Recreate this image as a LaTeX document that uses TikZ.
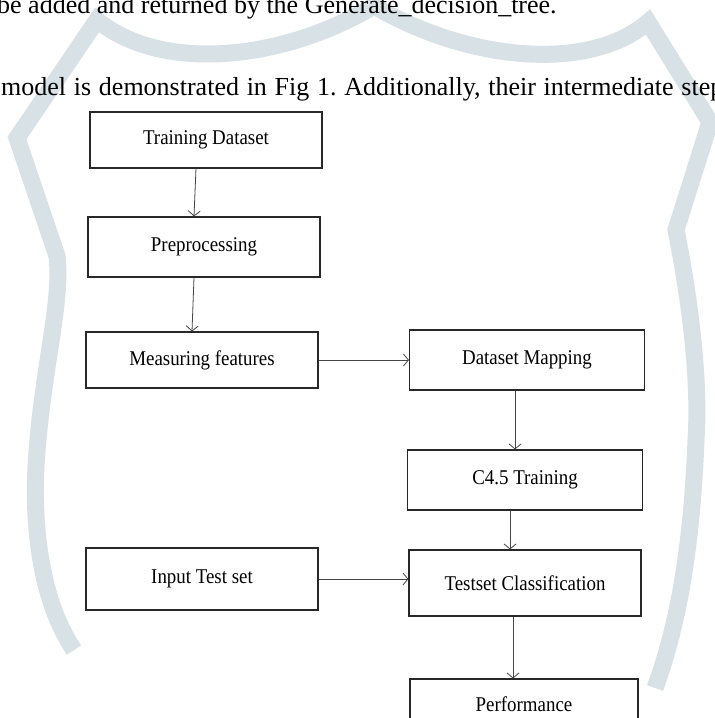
\documentclass[tikz,border=0pt]{standalone}
\usepackage{fontspec}
\setmainfont{Liberation Serif}
\newfontfamily\boxfont[FakeStretch=0.9]{Liberation Serif}
\usepackage{xcolor}
\usepackage{tikz}
\usetikzlibrary{arrows.meta,positioning}
\definecolor{shieldgrey}{RGB}{216, 225, 230}
\definecolor{boxline}{RGB}{40, 40, 40}
\definecolor{arrowline}{RGB}{70, 70, 70}
\frenchspacing

\tikzset{
    flowbox/.style={draw=boxline, fill=white, line width=1.1pt, minimum width=232pt, minimum height=60pt,
        inner sep=0pt, font=\boxfont\fontsize{21}{24}\selectfont},
    flowarrow/.style={-{Straight Barb[length=5pt, width=12pt]}, draw=arrowline, line width=0.8pt},
    pagetext/.style={inner sep=0pt, anchor=base west, font=\fontsize{26}{30}\selectfont}
}

\begin{document}
\begin{tikzpicture}[x=1pt, y=-1pt]
        \useasboundingbox (0,0) rectangle (715,718);
        \clip (0,0) rectangle (715,718);
        \fill[white] (0,0) rectangle (715,718);

        % Watermark shield behind the page
        \draw[shieldgrey, line width=17pt, miter limit=10] (74,650) .. controls (40,600) and (30,520) .. (38,440)
            .. controls (45,360) and (62,300) .. (57,256) -- (17,138) -- (97,20)
            .. controls (160,72) and (280,62) .. (374,6) .. controls (470,62) and (590,72) .. (648,22)
            -- (710,122) -- (676,230) .. controls (690,300) and (700,380) .. (696,440)
            .. controls (692,540) and (680,620) .. (655,688);

        % Running text of the page
        \node[pagetext] (line1) at (-3,13) {be added and returned by the Generate\_decision\_tree.};
        \node[pagetext] (line2) at (1,95) {\makebox[722pt][s]{model is demonstrated in Fig 1. Additionally, their intermediate step}};

        % Left column
        \node[flowbox, minimum height=56pt] (train) at (206,140) {Training Dataset};
        \node[flowbox] (prep) at (204,247) {Preprocessing};
        \node[flowbox, minimum height=56pt] (meas) at (202,360) {Measuring features};
        \node[flowbox, minimum height=62pt] (input) at (202,579) {Input Test set};

        % Right column
        \node[flowbox, minimum width=235pt] (map) at (527,360) {Dataset Mapping};
        \node[flowbox, minimum width=235pt] (c45) at (525,480) {C4.5 Training};
        \node[flowbox, minimum height=66pt] (test) at (525,583) {Testset Classification};
        \node[flowbox, minimum width=228pt, minimum height=50pt] (perf) at (524,704) {Performance};

        % Connectors
        \draw[flowarrow] ([xshift=-10pt]train.south) -- ([xshift=-10pt]prep.north);
        \draw[flowarrow] ([xshift=-10pt]prep.south) -- ([xshift=-10pt]meas.north);
        \draw[flowarrow] (meas.east) -- (meas.east -| map.west);
        \draw[flowarrow] ([xshift=-12pt]map.south) -- ([xshift=-12pt]map.south |- c45.north);
        \draw[flowarrow] ([xshift=-15pt]c45.south) -- ([xshift=-15pt]c45.south |- test.north);
        \draw[flowarrow] (input.east) -- (input.east -| test.west);
        \draw[flowarrow] ([xshift=-12pt]test.south) -- ([xshift=-12pt]test.south |- perf.north);
\end{tikzpicture}
\end{document}
